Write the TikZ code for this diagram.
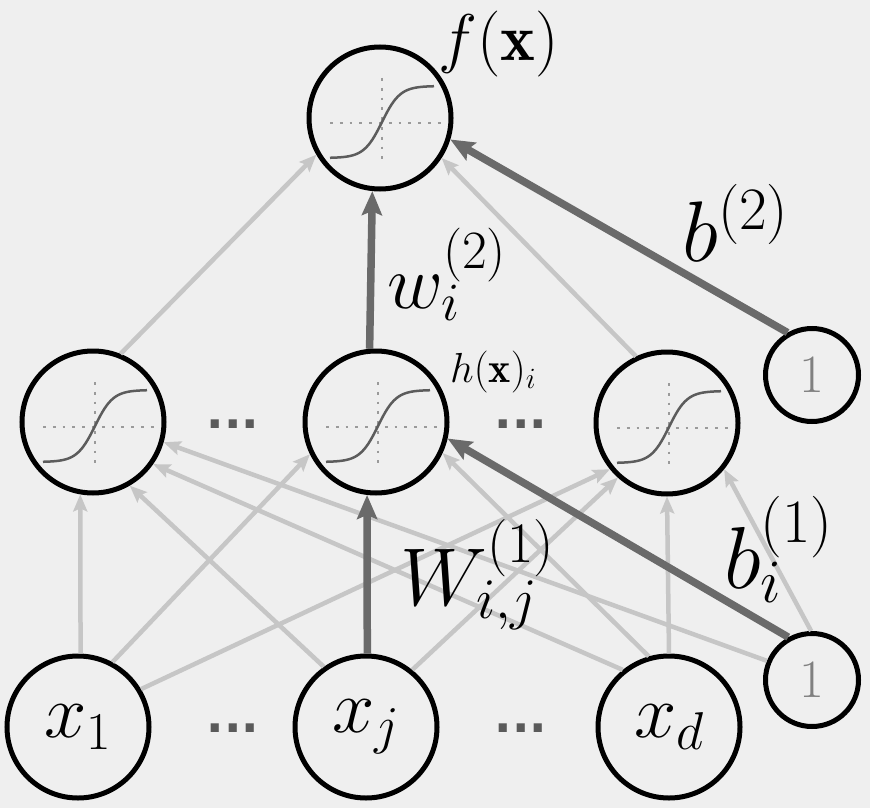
\RequirePackage{fix-cm}
\documentclass[tikz,border=0pt]{standalone}
\usepackage{amsmath}
\usepackage{fontspec}
\newfontfamily\dotfont{DejaVu Sans}
\usetikzlibrary{arrows.meta}
\definecolor{bgcol}{HTML}{EFEFEF}
\definecolor{lightarr}{HTML}{C6C6C6}
\definecolor{darkarr}{HTML}{6A6A6A}
\definecolor{curvecol}{HTML}{5C5C5C}
\definecolor{axiscol}{HTML}{9A9A9A}
\definecolor{dotcol}{HTML}{5A5A5A}

% small sigmoid drawn inside a neuron
\newcommand{\sigplot}[1]{%
  \begin{scope}[shift={(#1.center)}]
    \draw[axisdot] (-50,5) -- (64,5);
    \draw[axisdot] (2,-40) -- (2,44);
    \draw[sigcurve] plot[domain=-50:54, samples=50] (\x, {4-36*tanh((\x-2)/18)});
  \end{scope}}

\begin{document}
\begin{tikzpicture}[x=1pt, y=-1pt,
  neuron/.style={circle, draw, line width=5pt, minimum size=142pt, inner sep=0pt,
    font=\fontsize{76}{84}\selectfont},
  biasnode/.style={circle, draw, line width=5pt, minimum size=93pt, inner sep=0pt,
    text=gray, font=\fontsize{54}{60}\selectfont},
  light/.style={-{Stealth[length=17pt, width=14pt, inset=3pt]}, lightarr, line width=4.5pt},
  heavy/.style={-{Stealth[length=24pt, width=20pt, inset=4pt]}, darkarr, line width=7.5pt},
  axisdot/.style={axiscol, line width=2.8pt, dash pattern=on 2.8pt off 7pt},
  sigcurve/.style={curvecol, line width=2.5pt},
  lab/.style={anchor=base west, inner sep=0pt},
  dotsty/.style={anchor=base, inner sep=0pt, text height=12pt, text depth=0pt, text=dotcol,
    font=\dotfont\bfseries\fontsize{46}{46}\selectfont}]
  \useasboundingbox (0,0) rectangle (870,808);
  \fill[bgcol] (0,0) rectangle (870,808);
  % Output
  \node[neuron] (f) at (380,118) {};
  % Hidden layer
  \node[neuron] (h1) at (93,422) {};
  \node[neuron] (h2) at (376,422) {};
  \node[neuron] (h3) at (667,423) {};
  \node[biasnode] (b2) at (812,375) {$1$};
  % Inputs
  \node[neuron] (x1) at (78,727) {$x_1$};
  \node[neuron] (xj) at (366,727) {$x_j$};
  \node[neuron] (xd) at (669,727) {$x_d$};
  \node[biasnode] (b1) at (812,680) {$1$};
  \foreach \n in {f,h1,h2,h3} \sigplot{\n};
  % Dots
  \node[dotsty] (dh1) at (233,428) {...};
  \node[dotsty] (dh2) at (521,428) {...};
  \node[dotsty] (dx1) at (233,732) {...};
  \node[dotsty] (dx2) at (521,732) {...};
  % Connections
  \foreach \s/\t in {h1.68/f.210, h3.115/f.327,
      x1.88/h1.260, x1.62/h2.206, x1.31/h3.219,
      xj.125/h1.300, xj.51/h3.228,
      xd.129/h1.325, xd.106/h2.335, xd.90/h3.270,
      b1.157/h1.344, b1.91/h3.321}
    \draw[light] (\s) -- (\t);
  \foreach \s/\t in {h2.95/f.264, b2.120/f.343, xj.89/h2.263, b1.119/h2.347}
    \draw[heavy] (\s) -- (\t);
  % Labels
  \node[lab, font=\fontsize{66}{72}\selectfont] (flab) at (438,60) {$f(\mathbf{x})$};
  \node[lab, font=\fontsize{42}{46}\selectfont] (hlab) at (450,382) {$h(\mathbf{x})_i$};
  \node[lab, font=\fontsize{77}{84}\selectfont] (wlab) at (387,308) {$w_i^{(2)}$};
  \node[lab, font=\fontsize{86}{92}\selectfont] (blab) at (682,261) {$b^{(2)}$};
  \node[lab, font=\fontsize{82}{90}\selectfont] (Wlab) at (400,605) {$W_{i,j}^{(1)}$};
  \node[lab, font=\fontsize{88}{96}\selectfont] (bilab) at (724,588) {$b_i^{(1)}$};
\end{tikzpicture}
\end{document}
